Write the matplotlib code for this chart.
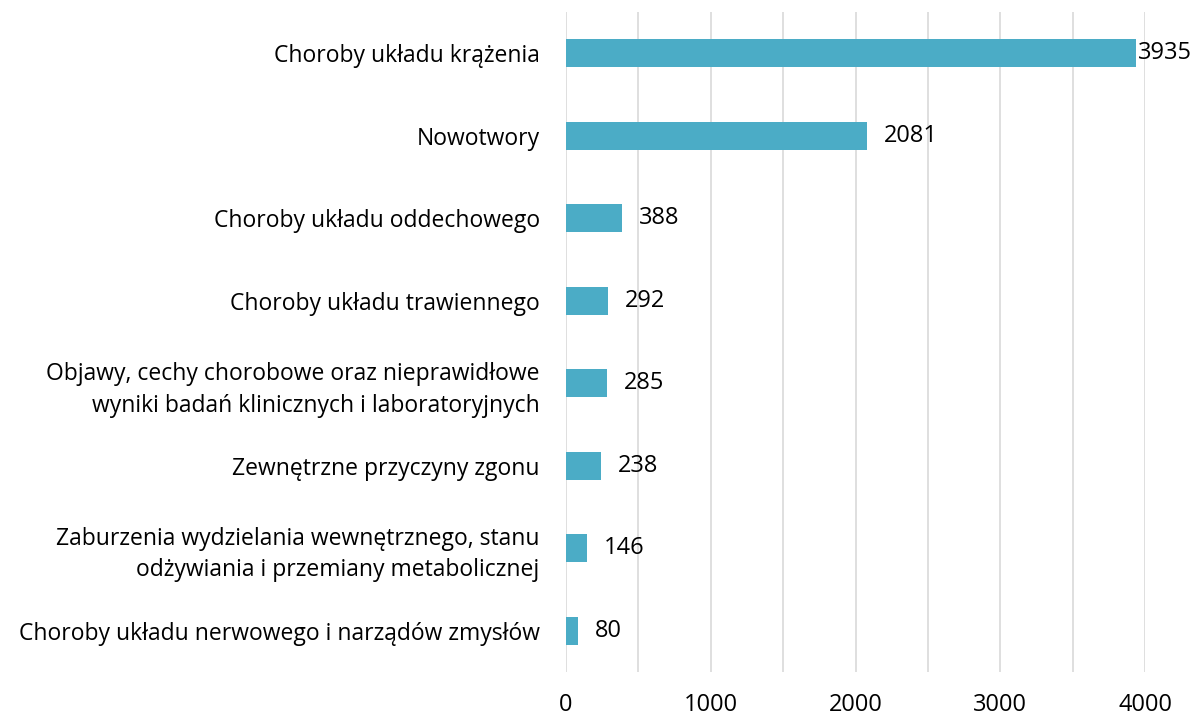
import matplotlib
matplotlib.use("Agg")
import matplotlib.pyplot as plt

categories = [
    "Choroby układu krążenia",
    "Nowotwory",
    "Choroby układu oddechowego",
    "Choroby układu trawiennego",
    "Objawy, cechy chorobowe oraz nieprawidłowe\nwyniki badań klinicznych i laboratoryjnych",
    "Zewnętrzne przyczyny zgonu",
    "Zaburzenia wydzielania wewnętrznego, stanu\nodżywiania i przemiany metabolicznej",
    "Choroby układu nerwowego i narządów zmysłów",
]
values = [3935, 2081, 388, 292, 285, 238, 146, 80]
x_ticks = [0, 1000, 2000, 3000, 4000]

plt.rcParams["font.family"] = ["Open Sans", "DejaVu Sans"]

fig = plt.figure(figsize=(11.98, 7.19), dpi=100)
ax = fig.add_axes([0.4725, 0.0654, 0.4833, 0.9176])

ypos = list(range(len(categories)))
ax.barh(ypos, values, height=0.34, color="#4BACC6", zorder=3)

for y, v in zip(ypos, values):
    pad = 2 if v > 3800 else 17
    ax.annotate(f"{v}", (v, y), textcoords="offset pixels", xytext=(pad, 0),
                ha="left", va="center", fontsize=17, color="#000000")

ax.set_ylim(7.5, -0.5)
ax.set_xlim(0, 4000)
ax.set_yticks(ypos)
ax.set_yticklabels(categories, fontsize=16.5, linespacing=1.4)
ax.set_xticks(x_ticks)
ax.set_xticklabels([str(t) for t in x_ticks], fontsize=17)
ax.set_xticks(range(500, 4001, 1000), minor=True)
ax.tick_params(axis="both", which="both", length=0)
ax.tick_params(axis="x", pad=15)
ax.tick_params(axis="y", pad=19)
ax.grid(True, axis="x", which="both", color="#D9D9D9", linewidth=1.2, zorder=0)
for s in ax.spines.values():
    s.set_visible(False)

fig.savefig("out.png", dpi=100)
